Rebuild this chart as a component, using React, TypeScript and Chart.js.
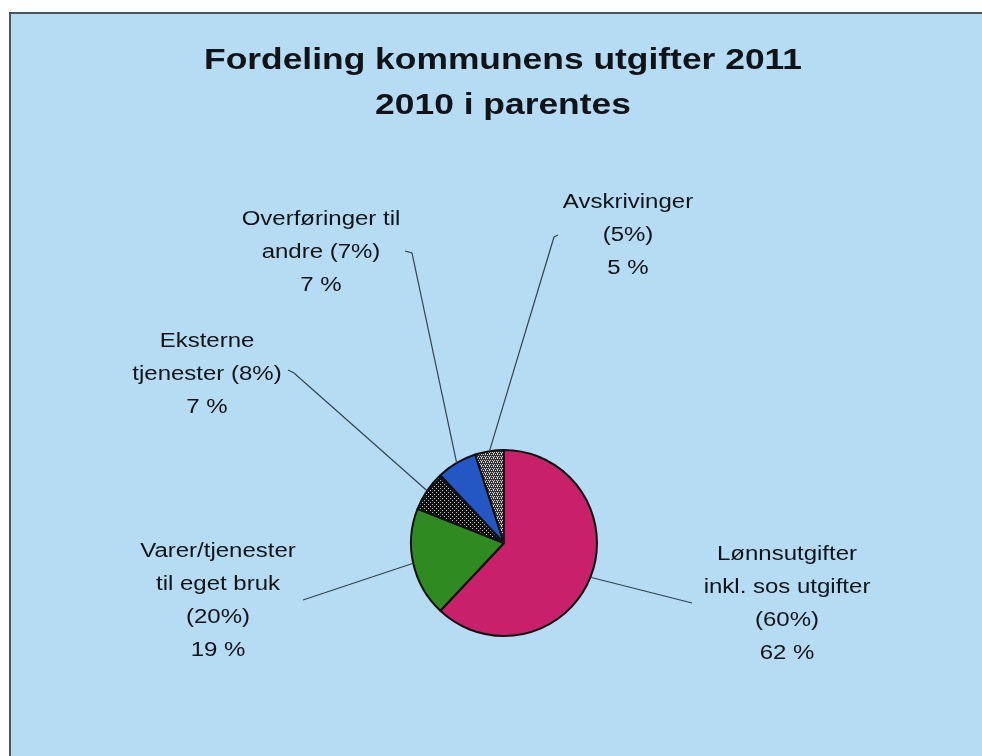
import React, { useEffect, useRef } from "react";
import { Chart, registerables } from "chart.js";

Chart.register(...registerables);

const titleLines = ["Fordeling kommunens utgifter 2011", "2010 i parentes"];
const categories = [
  ["Lønnsutgifter", "inkl. sos utgifter"],
  ["Varer/tjenester", "til eget bruk"],
  ["Eksterne", "tjenester"],
  ["Overføringer til", "andre"],
  ["Avskrivinger"],
];
const values2011 = [62, 19, 7, 7, 5];
const values2010 = [60, 20, 8, 7, 5];

// label layout (positions/styles only)
const labelLayout = [
  { cx: 787, y0: 560, inlinePrev: false, path: [[692, 603]] },
  { cx: 218, y0: 557, inlinePrev: false, path: [[303, 600]] },
  { cx: 207, y0: 347, inlinePrev: true, path: [[294, 373], [288, 370]] },
  { cx: 321, y0: 225, inlinePrev: true, path: [[412, 253], [405, 251]] },
  { cx: 628, y0: 208, inlinePrev: false, path: [[554, 237], [558, 235]] },
];

function makePattern(bg: string, fg: string, dots: number[][], size: number) {
  const c = document.createElement("canvas");
  c.width = size;
  c.height = size;
  const g = c.getContext("2d")!;
  g.fillStyle = bg;
  g.fillRect(0, 0, size, size);
  g.fillStyle = fg;
  dots.forEach(([x, y]) => g.fillRect(x, y, 1, 1));
  return g.createPattern(c, "repeat")!;
}

function drawScaled(ctx: CanvasRenderingContext2D, text: string, cx: number, y: number, sx: number) {
  ctx.save();
  ctx.translate(cx, y);
  ctx.scale(sx, 1);
  ctx.textAlign = "center";
  ctx.textBaseline = "alphabetic";
  ctx.fillText(text, 0, 0);
  ctx.restore();
}

const decorPlugin = {
  id: "decor",
  beforeDraw(chart: any) {
    const ctx = chart.ctx as CanvasRenderingContext2D;
    ctx.save();
    ctx.fillStyle = "#ffffff";
    ctx.fillRect(0, 0, chart.width, chart.height);
    ctx.fillStyle = "#b5dcf3";
    ctx.fillRect(10, 13, chart.width, chart.height);
    ctx.strokeStyle = "#4a5560";
    ctx.lineWidth = 2;
    ctx.beginPath();
    ctx.moveTo(10, chart.height + 5);
    ctx.lineTo(10, 13);
    ctx.lineTo(chart.width + 5, 13);
    ctx.stroke();
    ctx.fillStyle = "#101418";
    ctx.font = "bold 30px 'Liberation Sans', Arial, sans-serif";
    drawScaled(ctx, titleLines[0], 503, 69, 1.18);
    drawScaled(ctx, titleLines[1], 503, 114, 1.18);
    ctx.restore();
  },
  afterDatasetsDraw(chart: any) {
    const ctx = chart.ctx as CanvasRenderingContext2D;
    const meta = chart.getDatasetMeta(0);
    ctx.save();
    meta.data.forEach((arc: any, i: number) => {
      const lay = labelLayout[i];
      const mid = (arc.startAngle + arc.endAngle) / 2;
      const sx = arc.x + Math.cos(mid) * arc.outerRadius;
      const sy = arc.y + Math.sin(mid) * arc.outerRadius;
      ctx.strokeStyle = "#34434c";
      ctx.lineWidth = 1.2;
      ctx.beginPath();
      ctx.moveTo(sx, sy);
      lay.path.forEach(([px, py]) => ctx.lineTo(px, py));
      ctx.stroke();

      const lines = categories[i].slice();
      const prev = "(" + values2010[i] + "%)";
      if (lay.inlinePrev) lines[lines.length - 1] = lines[lines.length - 1] + " " + prev;
      else lines.push(prev);
      lines.push(values2011[i] + " %");
      ctx.fillStyle = "#101418";
      ctx.font = "20px 'Liberation Sans', Arial, sans-serif";
      lines.forEach((t, k) => drawScaled(ctx, t, lay.cx, lay.y0 + k * 33, 1.2));
    });
    ctx.restore();
  },
};

export default function App() {
  const ref = useRef<HTMLCanvasElement | null>(null);
  useEffect(() => {
    if (!ref.current) return;
    const eksterne = makePattern("#111111", "#c0c0c0", [[0, 0], [2, 2]], 4);
    const avskr = makePattern("#303030", "#d8d8d8", [[0, 0], [2, 0], [1, 2], [3, 2], [1, 1]], 4);
    const chart = new Chart(ref.current, {
      type: "pie",
      data: {
        labels: categories.map((c) => c.join(" ")),
        datasets: [
          {
            data: values2011,
            backgroundColor: ["#c8206a", "#2f8a22", eksterne as any, "#2456c4", avskr as any],
            borderColor: "#111111",
            borderWidth: 2,
          },
        ],
      },
      options: {
        responsive: false,
        animation: false,
        devicePixelRatio: 1,
        layout: { padding: { left: 410, right: 384, top: 449, bottom: 119 } },
        plugins: {
          legend: { display: false },
          tooltip: { enabled: false },
          title: { display: false },
        },
      },
      plugins: [decorPlugin],
    });
    return () => chart.destroy();
  }, []);
  return (
    <div style={{ position: "absolute", left: 0, top: 0, width: 982, height: 756 }}>
      <canvas ref={ref} width={982} height={756} style={{ display: "block" }} />
    </div>
  );
}
